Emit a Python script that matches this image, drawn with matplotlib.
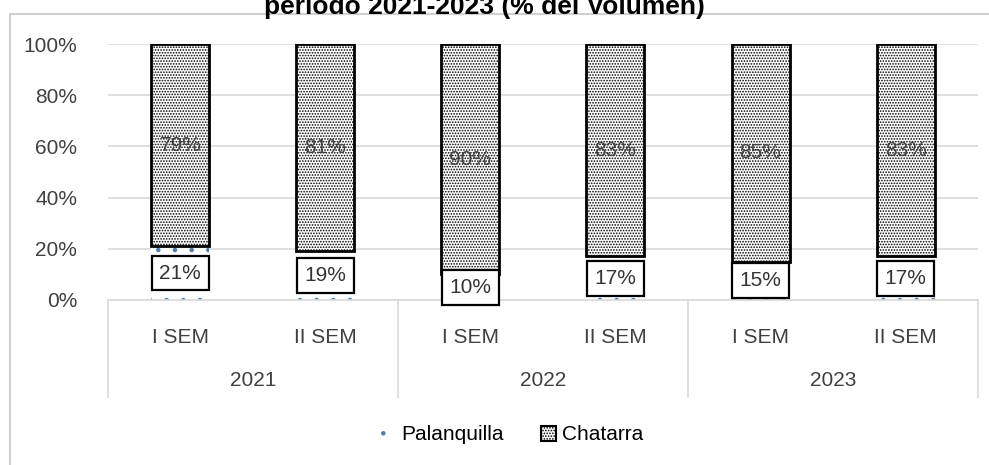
import numpy as np
import matplotlib
matplotlib.use("Agg")
import matplotlib.pyplot as plt
import matplotlib.transforms as mtransforms
from matplotlib.patches import Patch, Rectangle

years = ["2021", "2022", "2023"]
semesters = ["I SEM", "II SEM", "I SEM", "II SEM", "I SEM", "II SEM"]
palanquilla = [21, 19, 10, 17, 15, 17]
chatarra = [79, 81, 90, 83, 85, 83]

plt.rcParams["font.family"] = ["Liberation Sans", "DejaVu Sans"]
plt.rcParams["hatch.linewidth"] = 0.8

fig = plt.figure(figsize=(9.89, 4.65), dpi=100)
ax = fig.add_axes([0.109, 0.355, 0.880, 0.550])

# outer chart frame (cut on the right/bottom like the source)
fig.patches.append(Rectangle((10/989, -0.2), 1.1, 1.2 - 14/465, transform=fig.transFigure,
                             fill=False, edgecolor="#d0d0d0", lw=1.5, zorder=0))

x = np.arange(len(semesters))
pal = np.array(palanquilla) / 100
cha = np.array(chatarra) / 100

ax.bar(x, pal, width=0.4, color="white", edgecolor="#4a7eb0", hatch=".", lw=0, zorder=2)
ax.bar(x, cha, width=0.4, bottom=pal, color="white", edgecolor="black", hatch="......",
       lw=2, zorder=2)

fs = 15
for xi, p, c in zip(x, pal, cha):
    ax.text(xi, p/2, "%d%%" % round(p*100), ha="center", va="center", fontsize=fs,
            color="#333333", zorder=4,
            bbox=dict(boxstyle="square,pad=0.38", fc="white", ec="black", lw=1.6))
    ax.text(xi, p + c/2, "%d%%" % round(c*100), ha="center", va="center", fontsize=fs,
            color="#404040", zorder=4)

ax.set_xlim(-0.5, len(semesters) - 0.5)
ax.set_ylim(0, 1)
ax.set_yticks(np.arange(0, 1.01, 0.2))
ax.set_yticklabels(["%d%%" % v for v in range(0, 101, 20)], fontsize=fs, color="#404040")
ax.yaxis.grid(True, color="#d9d9d9", lw=1.2)
ax.set_axisbelow(True)
for s in ["top", "right", "left"]:
    ax.spines[s].set_visible(False)
ax.spines["bottom"].set_color("#d9d9d9")
ax.spines["bottom"].set_linewidth(1.2)
ax.tick_params(axis="y", length=0, pad=22)
ax.tick_params(axis="x", length=0, pad=20)
ax.set_xticks(x)
ax.set_xticklabels(semesters, fontsize=fs, color="#404040")

# year group labels and separators
trans = mtransforms.blended_transform_factory(ax.transData, ax.transAxes)
for i, yr in enumerate(years):
    ax.text(2*i + 0.5, -0.315, yr, transform=trans, ha="center", va="center",
            fontsize=fs, color="#404040")
for b in np.arange(-0.5, len(semesters), 2):
    ax.plot([b, b], [0, -0.38], transform=trans, color="#d9d9d9", lw=1.2, clip_on=False)

fig.text(0.49, 1 - 14/465, "periodo 2021-2023 (% del Volumen)", ha="center", va="baseline",
         fontsize=19, fontweight="bold")

handles = [Patch(facecolor="white", edgecolor="#4a7eb0", hatch=".", lw=0, label="Palanquilla"),
           Patch(facecolor="white", edgecolor="black", hatch="......", lw=1.5, label="Chatarra")]
fig.legend(handles=handles, loc="center", bbox_to_anchor=(512/989, 1 - 435/465), ncol=2,
           frameon=False, fontsize=fs, handlelength=0.7, handleheight=0.7,
           columnspacing=1.8, handletextpad=0.3)

fig.savefig("out.png", dpi=100)
